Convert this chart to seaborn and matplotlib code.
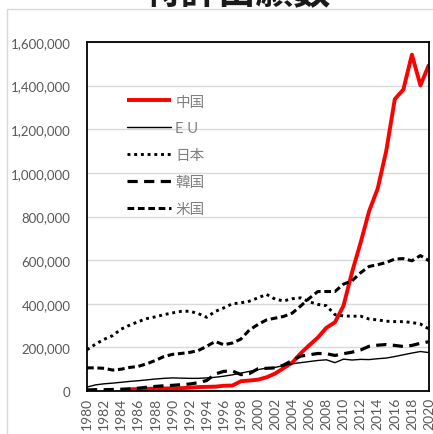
import matplotlib
matplotlib.use("Agg")
import matplotlib.pyplot as plt
from matplotlib.patches import Rectangle
from matplotlib.ticker import FuncFormatter, MultipleLocator
import numpy as np
import pandas as pd
import seaborn as sns

# 特許出願数 (1980-2020)
years = list(range(1980, 2021))
china_years = list(range(1985, 2021))

china = [8000, 8500, 10000, 11000, 11500, 12000, 13000, 15000, 18000, 19000,
         20000, 24000, 25000, 45000, 48000, 52000, 63000, 80000, 105000, 130000,
         173000, 210000, 245000, 290000, 315000, 391000, 545000, 680000, 825000,
         928000, 1101000, 1338000, 1382000, 1542000, 1401000, 1497000]

eu = [18000, 28000, 33000, 36000, 40000, 44000, 47000, 51000, 55000, 58000,
      60000, 59000, 58000, 58000, 60000, 63000, 68000, 74000, 82000, 90000,
      98000, 105000, 108000, 117000, 125000, 130000, 135000, 140000, 143000,
      130000, 146000, 142000, 145000, 144000, 148000, 151000, 158000, 166000,
      174000, 181000, 176000]

japan = [189000, 215000, 237000, 254000, 284000, 302000, 318000, 332000, 340000,
         350000, 358000, 365000, 366000, 355000, 338000, 365000, 381000, 400000,
         404000, 412000, 427000, 443000, 421000, 413000, 423000, 427000, 409000,
         397000, 391000, 350000, 344000, 343000, 343000, 330000, 326000, 320000,
         318000, 318000, 314000, 307000, 284000]

korea = [5000, 6000, 6000, 7000, 8000, 10000, 13000, 17000, 21000, 24000,
         26000, 29000, 32000, 38000, 48000, 78000, 90000, 92000, 75000, 80000,
         102000, 104000, 106000, 119000, 140000, 160000, 166000, 172000, 171000,
         163000, 171000, 178000, 188000, 205000, 210000, 213000, 209000, 204000,
         209000, 219000, 226000]

usa = [106000, 106000, 104000, 96000, 100000, 108000, 113000, 125000, 140000,
       158000, 168000, 172000, 177000, 185000, 205000, 227000, 212000, 220000,
       238000, 280000, 305000, 326000, 334000, 342000, 357000, 390000, 425000,
       456000, 456000, 456000, 490000, 505000, 542000, 571000, 579000, 589000,
       605000, 607000, 597000, 621000, 597000]

series_labels = ["中国", "E U", "日本", "韓国", "米国"]
x_tick_years = list(range(1980, 2021, 2))

sns.set_theme(style="white")
plt.rcParams["font.family"] = ["Lato", "Noto Sans CJK JP", "DejaVu Sans"]

W, H = 433, 435
fig = plt.figure(figsize=(W / 100, H / 100), dpi=100)
ax = fig.add_axes([87 / W, 1 - 392 / H, (429 - 87) / W, (392 - 43) / H])

# chart area outline
fig.patches.append(Rectangle((7 / W, -0.1), 1.2, 1.1 - 10 / H,
                             transform=fig.transFigure, fill=False,
                             edgecolor="#d9d9d9", lw=1.0, zorder=0))

df_cn = pd.DataFrame({"year": china_years, "value": china})
df = pd.DataFrame({"year": years, "eu": eu, "japan": japan,
                   "korea": korea, "usa": usa})

sns.lineplot(data=df_cn, x="year", y="value", ax=ax, color="#ff0000",
             lw=2.8, label=series_labels[0], solid_capstyle="butt")
sns.lineplot(data=df, x="year", y="eu", ax=ax, color="#000000",
             lw=1.0, label=series_labels[1])
sns.lineplot(data=df, x="year", y="japan", ax=ax, color="#000000",
             lw=2.1, linestyle=(0, (1, 1.3)), label=series_labels[2])
sns.lineplot(data=df, x="year", y="korea", ax=ax, color="#000000",
             lw=2.3, linestyle=(0, (3.2, 2.0)), label=series_labels[3])
sns.lineplot(data=df, x="year", y="usa", ax=ax, color="#000000",
             lw=2.2, linestyle=(0, (2.2, 1.2)), label=series_labels[4])

ax.set_xlim(1980, 2020)
ax.set_ylim(0, 1600000)
ax.yaxis.set_major_locator(MultipleLocator(200000))
ax.yaxis.set_major_formatter(FuncFormatter(lambda v, p: f"{int(v):,}"))
ax.set_xticks(x_tick_years)
ax.set_xticklabels([str(y) for y in x_tick_years], rotation=90)
ax.set_xlabel("")
ax.set_ylabel("")

ax.grid(axis="y", color="#d9d9d9", lw=1.0)
ax.grid(axis="x", visible=False)
ax.set_axisbelow(True)
for s in ax.spines.values():
    s.set_visible(True)
    s.set_color("#000000")
    s.set_linewidth(1.3)

ax.tick_params(axis="y", length=0, pad=12, labelsize=9.5, labelcolor="#595959")
ax.tick_params(axis="x", length=0, pad=4, labelsize=10, labelcolor="#595959")

leg = ax.legend(loc="upper left", bbox_to_anchor=(0.1, 0.866), frameon=False,
                fontsize=10.5, handlelength=3.0, handletextpad=0.3,
                labelspacing=0.88, borderaxespad=0)
for t in leg.get_texts():
    t.set_color("#808080")

fig.text(0.547, 1 - 4 / H, "特許出願数", ha="center", va="baseline",
         fontsize=27, fontweight="bold", color="#1a1a1a",
         family=["Noto Sans CJK JP", "DejaVu Sans"])

fig.savefig("out.png", dpi=100)
